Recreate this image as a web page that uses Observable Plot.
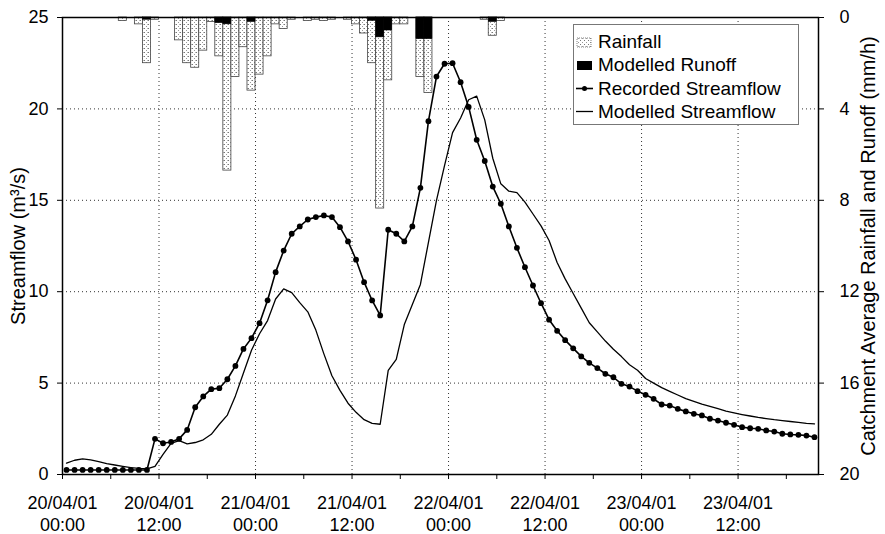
<!DOCTYPE html>
<html>
<head>
<meta charset="utf-8">
<script src="https://cdn.jsdelivr.net/npm/d3@7"></script>
<script src="https://cdn.jsdelivr.net/npm/@observablehq/plot@0.6"></script>
<style>
  body { margin: 0; background: #fff; }
  #wrap { position: relative; width: 885px; height: 534px; font-family: Arial, "Liberation Sans", sans-serif; }
  #legend { position: absolute; left: 573px; top: 24px; width: 226px; height: 101px; background: #fff;
            border: 1px solid #777; box-sizing: border-box; }
  .item { position: absolute; left: 2px; height: 22px; display: flex; align-items: center; font-size: 19px; color: #000; white-space: nowrap; }
  .item svg { margin-right: 4px; }
</style>
</head>
<body>
<div id="wrap"></div>
<script>
// ---- Data (hourly, starting 20/04/01 00:00) ----
const recorded = [0.25,0.25,0.25,0.25,0.25,0.25,0.25,0.25,0.25,0.25,
  0.25,1.95,1.71,1.78,1.95,2.44,3.68,4.27,4.67,4.72,
  5.21,5.94,6.87,7.46,8.28,9.53,11.07,12.25,13.17,13.57,
  13.95,14.08,14.17,14.08,13.53,12.75,11.75,10.52,9.52,8.70,
  13.39,13.17,12.75,13.57,15.68,19.33,21.77,22.47,22.50,21.46,
  20.11,18.31,17.15,15.75,14.81,13.57,12.40,11.34,10.34,9.37,
  8.47,7.86,7.35,6.90,6.46,6.11,5.82,5.51,5.32,4.96,
  4.81,4.56,4.36,4.14,3.83,3.77,3.59,3.45,3.32,3.23,
  3.05,2.95,2.83,2.72,2.59,2.53,2.50,2.41,2.35,2.23,
  2.19,2.17,2.13,2.04];
const modelled = [0.62,0.78,0.86,0.80,0.70,0.60,0.52,0.45,0.38,0.33,
  0.31,0.45,1.10,1.70,1.85,1.68,1.75,1.90,2.20,2.75,
  3.25,4.30,5.55,6.80,7.70,8.42,9.60,10.15,9.95,9.40,
  8.90,7.90,6.60,5.40,4.60,3.90,3.40,3.00,2.80,2.75,
  5.70,6.30,8.20,9.30,10.40,12.70,15.00,16.90,18.70,19.50,
  20.50,20.70,19.40,17.30,15.90,15.50,15.42,14.90,14.25,13.60,
  12.80,11.60,10.70,9.90,9.10,8.30,7.80,7.30,6.85,6.45,
  6.00,5.70,5.25,5.00,4.75,4.55,4.35,4.15,4.00,3.85,
  3.72,3.60,3.47,3.37,3.28,3.20,3.12,3.06,3.00,2.95,
  2.90,2.85,2.80,2.77];
const rainfall = [0,0,0,0,0,0,0,0.15,0,0.3,
  2.0,0.1,0,0,1.0,2.0,2.2,1.45,0.2,1.7,
  6.7,2.6,1.3,3.2,2.5,1.7,0.3,0.5,0.1,0,
  0.15,0.1,0.15,0.1,0,0.1,0.3,0.7,2.0,8.36,
  2.75,0.3,0.3,0,2.6,3.3,0,0,0,0,
  0,0,0.1,0.8,0.15,0,0,0,0,0,
  0,0,0,0,0,0,0,0,0,0,
  0,0,0,0,0,0,0,0,0,0,
  0,0,0,0,0,0,0,0,0,0,
  0,0,0,0];
const runoff = [0,0,0,0,0,0,0,0,0,0,
  0.1,0,0,0,0,0,0,0,0,0.25,
  0.3,0,0,0.2,0,0,0,0,0,0,
  0,0,0,0,0,0,0,0,0.15,0.87,
  0.57,0,0,0,0.95,0.95,0,0,0,0,
  0,0,0,0.2,0,0,0,0,0,0,
  0,0,0,0,0,0,0,0,0,0,
  0,0,0,0,0,0,0,0,0,0,
  0,0,0,0,0,0,0,0,0,0,
  0,0,0,0];
const dateLabels = ["20/04/01","20/04/01","21/04/01","21/04/01","22/04/01","22/04/01","23/04/01","23/04/01"];
const timeLabels = ["00:00","12:00","00:00","12:00","00:00","12:00","00:00","12:00"];
const labelHours = [0,12,24,36,48,60,72,84];
const minorHours = [6,18,30,42,54,66,78,90];
const flowTicks = [0,5,10,15,20,25];
const rainTicks = [0,4,8,12,16,20];
const flowMax = 25, rainMax = 20;

// ---- derived table ----
const rows = recorded.map((v, i) => ({
  i, t: i + 0.5, t0: i, t1: i + 1,
  rec: v, mod: modelled[i], rain: rainfall[i], runoff: runoff[i]
}));
// rainfall axis is inverted on the right: 0 at top, rainMax at bottom
const rainToFlow = r => flowMax - r * flowMax / rainMax;

const font = "Arial, 'Liberation Sans', sans-serif";
const chart = Plot.plot({
  width: 885, height: 534,
  marginLeft: 62, marginRight: 67, marginTop: 17, marginBottom: 60,
  x: {domain: [0, recorded.length]},
  y: {domain: [0, flowMax]},
  style: {fontFamily: font, fontSize: "18px", color: "#000", background: "#fff", overflow: "visible"},
  marks: [
    Plot.ruleY(flowTicks.filter(d => d > 0 && d < flowMax), {stroke: "#333", strokeDasharray: "1,3", strokeWidth: 1}),
    Plot.ruleX(labelHours.filter(d => d > 0), {stroke: "#333", strokeDasharray: "1,3", strokeWidth: 1}),
    Plot.rect(rows.filter(d => d.rain > 0), {
      x1: "t0", x2: "t1", y1: () => flowMax, y2: d => rainToFlow(d.rain),
      fill: "url(#stipple)", stroke: "#444", strokeWidth: 0.8
    }),
    Plot.rect(rows.filter(d => d.runoff > 0), {
      x1: "t0", x2: "t1", y1: () => flowMax, y2: d => rainToFlow(d.runoff),
      fill: "#000", stroke: "#000", strokeWidth: 0.5
    }),
    Plot.line(rows, {x: "t", y: "mod", stroke: "#000", strokeWidth: 1.3}),
    Plot.line(rows, {x: "t", y: "rec", stroke: "#000", strokeWidth: 1.6}),
    Plot.dot(rows, {x: "t", y: "rec", r: 2.9, fill: "#000", stroke: "none"}),
    Plot.frame({stroke: "#000", strokeWidth: 1.5}),
    Plot.axisY({ticks: flowTicks, tickSize: 5, tickPadding: 9, label: null}),
    Plot.axisY({anchor: "right", ticks: rainTicks.map(rainToFlow), tickFormat: d => String(Math.round((flowMax - d) * rainMax / flowMax)), tickSize: 5, tickPadding: 16, label: null}),
    Plot.axisX({ticks: labelHours, tickFormat: d => dateLabels[labelHours.indexOf(d)] + "\n" + timeLabels[labelHours.indexOf(d)], tickSize: 5, tickPadding: 14.5, lineHeight: 1.2, label: null}),
    Plot.axisX({ticks: minorHours, tickFormat: () => "", tickSize: 5, label: null}),
    Plot.text(["Streamflow (m³/s)"], {frameAnchor: "left", textAnchor: "middle", dx: -44, rotate: -90, fontSize: 20}),
    Plot.text(["Catchment Average Rainfall and Runoff (mm/h)"], {frameAnchor: "right", textAnchor: "middle", dx: 50, rotate: -90, fontSize: 20})
  ]
});

// stipple pattern for rainfall bars
const ns = "http://www.w3.org/2000/svg";
const defs = document.createElementNS(ns, "defs");
defs.innerHTML = '<pattern id="stipple" width="4" height="4" patternUnits="userSpaceOnUse">' +
  '<rect width="4" height="4" fill="#fff"/>' +
  '<rect x="0" y="0" width="1" height="1" fill="#777"/>' +
  '<rect x="2" y="2" width="1" height="1" fill="#999"/>' +
  '<rect x="3" y="0" width="1" height="1" fill="#bbb"/></pattern>';
chart.insertBefore(defs, chart.firstChild);

const wrap = document.getElementById("wrap");
wrap.appendChild(chart);

// legend
const legendItems = [
  {label: "Rainfall", sym: '<rect x="1" y="2" width="14" height="9" fill="url(#stipple2)" stroke="#666" stroke-width="0.8" stroke-dasharray="1,1"/>'},
  {label: "Modelled Runoff", sym: '<rect x="1" y="2" width="15" height="9" fill="#000"/>'},
  {label: "Recorded Streamflow", sym: '<line x1="0" y1="6.5" x2="17" y2="6.5" stroke="#000" stroke-width="1.6"/><circle cx="8.5" cy="6.5" r="2.5" fill="#000"/>'},
  {label: "Modelled Streamflow", sym: '<line x1="0" y1="6.5" x2="17" y2="6.5" stroke="#000" stroke-width="1.3"/>'}
];
const legend = document.createElement("div");
legend.id = "legend";
legendItems.forEach((it, k) => {
  const d = document.createElement("div");
  d.className = "item";
  d.style.top = (6 + k * 23.3) + "px";
  d.innerHTML = '<svg width="18" height="13" viewBox="0 0 18 13">' +
    '<defs><pattern id="stipple2" width="4" height="4" patternUnits="userSpaceOnUse"><rect width="4" height="4" fill="#fff"/><rect width="1" height="1" fill="#777"/><rect x="2" y="2" width="1" height="1" fill="#999"/></pattern></defs>' +
    it.sym + '</svg><span>' + it.label + '</span>';
  legend.appendChild(d);
});
wrap.appendChild(legend);
</script>
</body>
</html>
